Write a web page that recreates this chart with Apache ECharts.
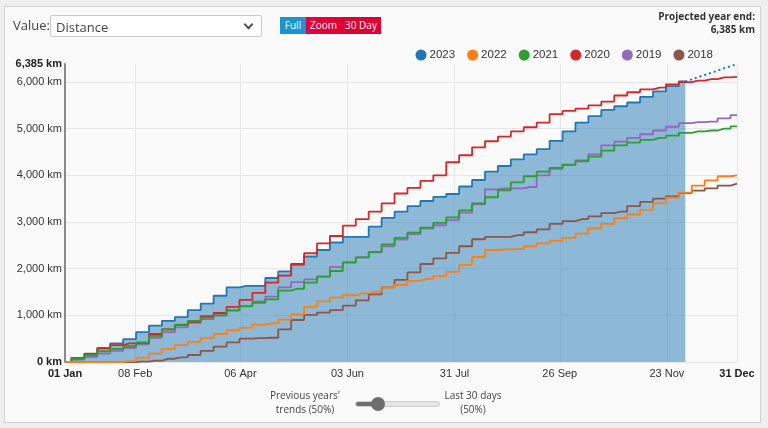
<!DOCTYPE html>
<html>
<head>
<meta charset="utf-8">
<script src="https://cdn.jsdelivr.net/npm/echarts@6/dist/echarts.min.js"></script>
<style>
html,body{margin:0;padding:0;background:#efefef;width:768px;height:428px;overflow:hidden;font-family:'Open Sans','Noto Sans',sans-serif;}
#panel{position:absolute;left:4px;top:6px;width:757px;height:417px;background:#fafafa;border:1px solid #d2d2d2;box-sizing:border-box;}
#chart{position:absolute;left:0;top:0;width:768px;height:428px;}
.abs{position:absolute;}
#valueLbl{left:13px;top:16px;font-size:13px;color:#444;}
#sel{left:50px;top:15px;width:212px;height:22px;background:#fff;border:1px solid #c8c8c8;box-sizing:border-box;border-radius:2px;}
#sel span{position:absolute;left:5px;top:2px;font-size:13px;color:#444;}
#chev{position:absolute;right:9px;top:5px;width:5px;height:5px;border-right:2px solid #555;border-bottom:2px solid #555;transform:rotate(45deg);}
#btns{left:280px;top:17px;height:17px;display:flex;font-size:10px;color:#fff;line-height:17px;}
#btns div{text-align:center;}
#proj{right:13px;top:10px;text-align:right;font-size:10px;font-weight:bold;color:#333;line-height:13px;}
.note{font-size:10px;color:#444;line-height:14px;text-align:center;width:110px;}
#track{left:355px;top:401px;width:85px;height:6px;border-radius:3px;background:#e6e6e6;border:1px solid #cfcfcf;box-sizing:border-box;overflow:hidden;}
#fill{position:absolute;left:0;top:0;width:24px;height:6px;background:#6e6e6e;}
#knob{left:371px;top:397px;width:14px;height:14px;border-radius:7px;background:#6e6e6e;}
</style>
</head>
<body>
<div id="panel"></div>
<div id="chart"></div>
<div id="valueLbl" class="abs">Value:</div>
<div id="sel" class="abs"><span>Distance</span><div id="chev"></div></div>
<div id="btns" class="abs">
  <div style="width:26px;background:#1b95d2;">Full</div>
  <div style="width:35px;background:#e3003b;">Zoom</div>
  <div style="width:40px;background:#dc0035;">30 Day</div>
</div>
<div id="proj" class="abs">Projected year end:<br>6,385 km</div>
<div class="abs note" style="left:250px;top:388px;">Previous years'<br>trends (50%)</div>
<div class="abs note" style="left:418px;top:388px;">Last 30 days<br>(50%)</div>
<div id="track" class="abs"><div id="fill"></div></div>
<div id="knob" class="abs"></div>
<script>
// sample days (day of year, 0 = 01 Jan)
const days = [0,7,14,21,28,35,42,49,56,63,70,77,84,91,98,105,112,119,126,133,140,147,154,161,168,175,182,189,196,203,210,217,224,231,238,245,252,259,266,273,280,287,294,301,308,315,322,329,336,343,350,357,364];

const years = ['2023','2022','2021','2020','2019','2018'];
const colors = ['#1f77b4','#ff7f0e','#2ca02c','#d62728','#9467bd','#8c564b'];

// cumulative km read at each sample day
const km2023 = [0,80,170,300,400,490,640,780,880,960,1110,1250,1420,1600,1630,1630,1800,1940,2080,2260,2400,2560,2680,2680,2900,3090,3220,3340,3450,3540,3600,3760,3900,4080,4200,4340,4450,4560,4740,4940,5130,5270,5400,5480,5560,5680,5800,5910,6010];
const km2022 = [0,0,0,0,0,20,90,180,280,360,430,510,600,680,730,800,830,910,1020,1180,1300,1380,1430,1470,1510,1600,1650,1740,1780,1840,1930,2080,2250,2400,2415,2420,2480,2540,2600,2660,2750,2860,2960,3080,3160,3260,3400,3520,3630,3780,3890,3980,4000];
const km2021 = [0,70,150,230,280,340,420,560,700,800,880,950,1000,1100,1190,1270,1340,1530,1570,1700,1830,1950,2130,2240,2360,2520,2660,2770,2880,2980,3100,3250,3400,3530,3680,3850,3980,4080,4160,4230,4300,4400,4530,4640,4700,4760,4800,4850,4910,4940,4960,5000,5050];
const km2020 = [0,90,180,290,360,400,410,600,700,790,860,980,1050,1180,1330,1480,1700,1850,2100,2330,2540,2700,2920,3060,3220,3400,3610,3730,3880,4000,4280,4430,4600,4730,4830,4940,5030,5130,5310,5380,5430,5500,5580,5710,5780,5840,5880,5950,5995,6030,6060,6100,6110];
const km2019 = [0,50,110,180,240,300,380,520,640,740,840,920,1000,1110,1200,1300,1400,1600,1710,1770,1830,2040,2140,2240,2350,2480,2620,2740,2860,2930,3040,3200,3380,3700,3720,3720,3750,4000,4140,4220,4320,4450,4640,4720,4800,4880,4960,5040,5120,5140,5150,5220,5290];
const km2018 = [0,0,0,0,0,0,10,30,70,100,150,240,330,420,500,510,520,700,900,1010,1060,1110,1210,1320,1450,1600,1760,1920,2100,2220,2340,2480,2630,2680,2680,2720,2780,2840,2960,3020,3060,3120,3190,3220,3340,3430,3500,3550,3620,3670,3720,3780,3820];

// projection of 2023 to year end
const projDays = [336, 364];
const projKm = [6010, 6385];

const xTickDays = [0,38,95,153,211,268,326,364];
const xTickLabels = ['01 Jan','08 Feb','06 Apr','03 Jun','31 Jul','26 Sep','23 Nov','31 Dec'];
const yMax = 6385;
const yStep = 1000;

const allKm = [km2023, km2022, km2021, km2020, km2019, km2018];

const series = years.map((y, i) => {
  const s = {
    name: y,
    type: 'line',
    step: 'middle',
    symbol: 'none',
    data: allKm[i].map((v, j) => [days[j], v]),
    lineStyle: {color: colors[i], width: 1.8},
    itemStyle: {color: colors[i]},
    z: 3 + (years.length - i)
  };
  if (i === 0) {
    s.areaStyle = {color: '#1f77b4', opacity: 0.5, origin: 'start'};
    s.z = 2;
  }
  return s;
});
series.push({
  name: 'Projection',
  type: 'line',
  symbol: 'none',
  data: projDays.map((d, j) => [d, projKm[j]]),
  lineStyle: {color: colors[0], width: 2, type: [2, 3]},
  z: 2
});

const chart = echarts.init(document.getElementById('chart'), null, {renderer: 'canvas'});
chart.setOption({
  animation: false,
  backgroundColor: 'transparent',
  textStyle: {fontFamily: 'Liberation Sans'},
  legend: {
    data: years.map((y, i) => ({name: y, itemStyle: {color: colors[i]}})),
    icon: 'circle',
    itemWidth: 11,
    itemHeight: 11,
    itemGap: 12,
    right: 50,
    top: 44,
    textStyle: {fontSize: 11.5, color: '#333', fontFamily: 'Liberation Sans', padding: [0, 0, 0, -2]}
  },
  grid: {left: 65, right: 31, top: 64, bottom: 66},
  xAxis: {
    type: 'value',
    min: 0,
    max: 364,
    axisLine: {show: false},
    axisTick: {show: false, customValues: xTickDays},
    splitLine: {show: true, lineStyle: {color: '#e6e6e6', width: 1}},
    axisLabel: {
      customValues: xTickDays,
      margin: 6,
      fontSize: 11,
      color: '#333',
      formatter: function (v) {
        const k = xTickDays.indexOf(v);
        const t = k >= 0 ? xTickLabels[k] : '';
        return (k === 0 || k === xTickDays.length - 1) ? '{b|' + t + '}' : t;
      },
      rich: {b: {fontWeight: 'bold', fontSize: 11, color: '#222'}}
    }
  },
  yAxis: {
    type: 'value',
    min: 0,
    max: yMax,
    interval: yStep,
    axisLine: {show: true, lineStyle: {color: '#8a8a8a', width: 2}},
    axisTick: {show: false},
    splitLine: {show: true, showMaxLine: false, lineStyle: {color: '#e6e6e6', width: 1}},
    axisLabel: {
      margin: 3,
      fontSize: 11,
      color: '#333',
      formatter: function (v) {
        const t = v.toLocaleString('en-US') + ' km';
        return (v === 0 || v === yMax) ? '{b|' + t + '}' : t;
      },
      rich: {b: {fontWeight: 'bold', fontSize: 11, color: '#222'}}
    }
  },
  series: series
});
</script>
</body>
</html>
